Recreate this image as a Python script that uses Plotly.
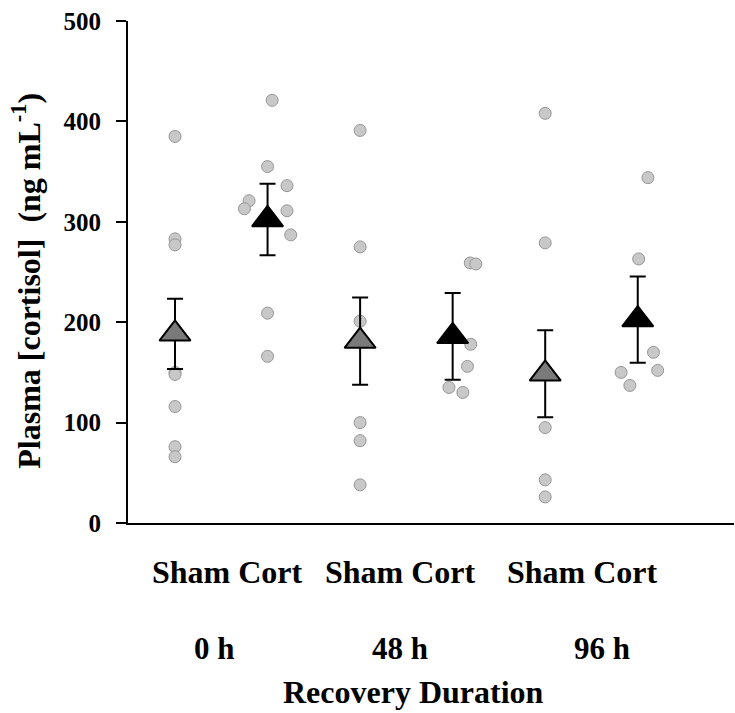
import plotly.graph_objects as go

# ---- data ----
groups = ["Sham 0 h", "Cort 0 h", "Sham 48 h", "Cort 48 h", "Sham 96 h", "Cort 96 h"]
group_x = [1, 2, 3, 4, 5, 6]
is_cort = [False, True, False, True, False, True]

means = [188.4, 302.3, 181.2, 185.9, 148.6, 202.6]
sems = [35.0, 35.5, 43.4, 43.1, 43.3, 43.0]

points = [
    [385, 283, 277, 150, 148, 116, 76, 66],
    [421, 355, 336, 321, 313, 311, 287, 209, 166],
    [391, 275, 201, 100, 82, 38],
    [259, 258, 178, 156, 135, 130],
    [408, 279, 95, 43, 26],
    [344, 263, 170, 152, 150, 137],
]
jitter = [
    [0, 0, 0, 0, 0, 0, 0, 0],
    [0.05, 0.0, 0.21, -0.20, -0.25, 0.21, 0.25, 0.0, 0.0],
    [0, 0, 0, 0, 0, 0],
    [0.19, 0.25, 0.195, 0.16, -0.04, 0.11],
    [0, 0, 0, 0, 0],
    [0.11, 0.01, 0.17, 0.215, -0.18, -0.085],
]

group_labels = ["Sham Cort", "Sham Cort", "Sham Cort"]
time_labels = ["0 h", "48 h", "96 h"]
y_ticks = [0, 100, 200, 300, 400, 500]

FONT = "Times New Roman, Liberation Serif, serif"

fig = go.Figure()

# individual points
for gx, vals, jit in zip(group_x, points, jitter):
    fig.add_trace(go.Scatter(
        x=[gx + j for j in jit], y=vals, mode="markers",
        marker=dict(symbol="circle", size=12, color="rgb(200,200,200)",
                    line=dict(color="rgb(150,150,150)", width=1)),
        showlegend=False, hoverinfo="y"))

# means with SEM
for gx, m, s, c in zip(group_x, means, sems, is_cort):
    fig.add_trace(go.Scatter(
        x=[gx], y=[m], mode="markers",
        marker=dict(symbol="triangle-up", size=27,
                    color="black" if c else "rgb(122,122,122)",
                    line=dict(color="black", width=2)),
        error_y=dict(type="data", array=[s], visible=True, color="black",
                     thickness=2, width=8),
        showlegend=False))

annotations = []
# group labels (Sham Cort)
for xc, t in zip([1.565, 3.44, 5.405], group_labels):
    annotations.append(dict(x=xc, y=-0.0985, xref="x", yref="paper", text="<b>%s</b>" % t,
                            showarrow=False, xanchor="center", yanchor="middle",
                            font=dict(family=FONT, size=32, color="black")))
for xc, t in zip([1.428, 3.427, 5.617], time_labels):
    annotations.append(dict(x=xc, y=-0.25, xref="x", yref="paper", text="<b>%s</b>" % t,
                            showarrow=False, xanchor="center", yanchor="middle",
                            font=dict(family=FONT, size=31, color="black")))
annotations.append(dict(x=3.58, y=-0.336, xref="x", yref="paper", text="<b>Recovery Duration</b>",
                        showarrow=False, xanchor="center", yanchor="middle",
                        font=dict(family=FONT, size=32, color="black")))
annotations.append(dict(x=0, y=0.4826, xref="paper", yref="paper", xshift=-102,
                        text="<b>Plasma [cortisol]\u00a0\u00a0(ng mL<sup>-1</sup>)</b>",
                        textangle=-90, showarrow=False, xanchor="center", yanchor="middle",
                        font=dict(family=FONT, size=32, color="black")))

fig.update_layout(
    width=735, height=713,
    margin=dict(l=128, r=1, t=21, b=189.5, pad=0),
    paper_bgcolor="white", plot_bgcolor="white",
    annotations=annotations,
    xaxis=dict(range=[0.492, 7.04], showline=True, linecolor="black", linewidth=2,
               showgrid=False, zeroline=False, showticklabels=False, ticks=""),
    yaxis=dict(range=[0, 500], tickvals=y_ticks, ticktext=["<b>%d</b>" % v for v in y_ticks],
               showline=True, linecolor="black", linewidth=2,
               ticks="outside", ticklen=10, tickwidth=2, tickcolor="black",
               ticklabelstandoff=10,
               showgrid=False, zeroline=False,
               tickfont=dict(family=FONT, size=25, color="black")),
)

fig.write_html("out.html")
